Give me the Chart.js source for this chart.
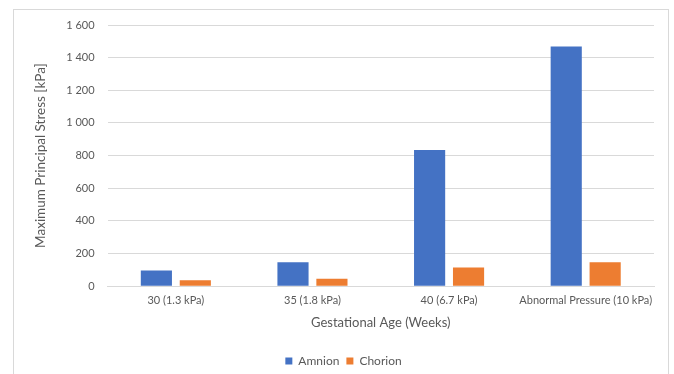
<!DOCTYPE html>
<html>
<head>
<meta charset="utf-8">
<script src="https://cdn.jsdelivr.net/npm/chart.js@4/dist/chart.umd.min.js"></script>
<style>
  html, body { margin: 0; padding: 0; background: #ffffff; }
  #wrap { position: relative; width: 674px; height: 374px; }
</style>
</head>
<body>
<div id="wrap"><canvas id="c" width="674" height="374"></canvas></div>
<script>
const categories = ["30 (1.3 kPa)", "35 (1.8 kPa)", "40 (6.7 kPa)", "Abnormal Pressure (10 kPa)"];
const amnion = [96, 147, 834, 1468];
const chorion = [36, 46, 115, 146];
const seriesNames = ["Amnion", "Chorion"];
const yTitle = "Maximum Principal Stress [kPa]";
const xTitle = "Gestational Age (Weeks)";

const FONT = "Lato, 'Open Sans', sans-serif";

const borderPlugin = {
  id: 'outerBorder',
  beforeDraw(chart) {
    const ctx = chart.ctx;
    ctx.save();
    ctx.strokeStyle = '#d9d9d9';
    ctx.lineWidth = 1;
    ctx.strokeRect(13.5, 9.5, 655, 370);
    ctx.restore();
  }
};

new Chart(document.getElementById('c'), {
  type: 'bar',
  data: {
    labels: categories,
    datasets: [
      { label: seriesNames[0], data: amnion, backgroundColor: '#4472c4' },
      { label: seriesNames[1], data: chorion, backgroundColor: '#ed7d31' }
    ]
  },
  options: {
    responsive: false,
    animation: false,
    devicePixelRatio: 1,
    layout: { padding: { left: 33, right: 20, top: 25, bottom: -3 } },
    datasets: { bar: { categoryPercentage: 0.57, barPercentage: 0.8 } },
    plugins: {
      legend: {
        position: 'bottom',
        labels: {
          font: { family: FONT, size: 12 },
          color: '#595959',
          boxWidth: 7, boxHeight: 7,
          padding: 7
        }
      },
      tooltip: { enabled: false }
    },
    scales: {
      x: {
        grid: { display: false, drawTicks: false },
        border: { display: true, color: '#d9d9d9' },
        ticks: { font: { family: FONT, size: 11 }, color: '#595959', padding: 8, maxRotation: 0 },
        title: { display: true, text: xTitle, font: { family: FONT, size: 13 }, color: '#595959', padding: { top: 0, bottom: 17 } }
      },
      y: {
        min: 0, max: 1600,
        ticks: {
          stepSize: 200,
          font: { family: FONT, size: 11 }, color: '#595959', padding: 13,
          callback: v => String(v).replace(/\B(?=(\d{3})+(?!\d))/g, ' ')
        },
        grid: { color: '#d9d9d9', drawTicks: false },
        border: { display: false },
        title: { display: true, text: yTitle, font: { family: FONT, size: 13.5 }, color: '#595959', padding: { top: 0, bottom: 4 } }
      }
    }
  },
  plugins: [borderPlugin]
});
</script>
</body>
</html>
